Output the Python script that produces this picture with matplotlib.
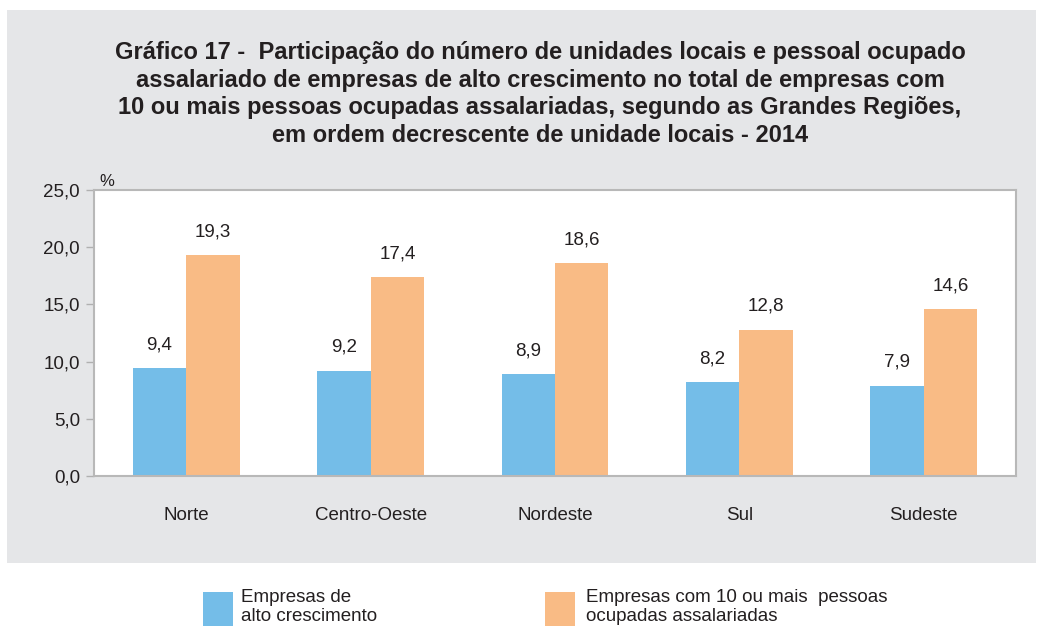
import matplotlib.pyplot as plt
from matplotlib.patches import Rectangle
import numpy as np

# Data
regioes = ['Norte', 'Centro-Oeste', 'Nordeste', 'Sul', 'Sudeste']
alto_crescimento = [9.4, 9.2, 8.9, 8.2, 7.9]
empresas_10_mais = [19.3, 17.4, 18.6, 12.8, 14.6]
y_ticks = [0, 5, 10, 15, 20, 25]

azul = '#74bde8'
laranja = '#f9bb85'
cinza = '#e5e6e8'
texto = '#231f20'

plt.rcParams['font.family'] = ['Liberation Sans', 'DejaVu Sans']

fig = plt.figure(figsize=(10.51, 6.28), dpi=100)
W, H = 1051, 628

# gray panel behind the title and plot
fig.patches.append(Rectangle((7 / W, 1 - 563 / H), 1029 / W, 553 / H,
                             transform=fig.transFigure, facecolor=cinza,
                             edgecolor='none', zorder=-10))

titulo = ('Gráfico 17 -  Participação do número de unidades locais e pessoal ocupado\n'
          'assalariado de empresas de alto crescimento no total de empresas com\n'
          '10 ou mais pessoas ocupadas assalariadas, segundo as Grandes Regiões,\n'
          'em ordem decrescente de unidade locais - 2014')
fig.text(540 / W, 1 - 94 / H, titulo, ha='center', va='center', fontsize=17,
         fontweight='bold', color=texto, linespacing=1.27)

ax = fig.add_axes([94 / W, 1 - 476 / H, 922 / W, 286 / H], zorder=5)
ax.set_facecolor('white')

x = np.arange(len(regioes))
w = 0.29
ax.bar(x - w / 2, alto_crescimento, w, color=azul, zorder=2)
ax.bar(x + w / 2, empresas_10_mais, w, color=laranja, zorder=2)

for xi, v in zip(x, alto_crescimento):
    ax.text(xi - w / 2, v + 1.3, f'{v:.1f}'.replace('.', ','), ha='center',
            va='bottom', fontsize=13.5, color=texto)
for xi, v in zip(x, empresas_10_mais):
    ax.text(xi + w / 2, v + 1.3, f'{v:.1f}'.replace('.', ','), ha='center',
            va='bottom', fontsize=13.5, color=texto)

ax.set_xlim(-0.5, len(regioes) - 0.5)
ax.set_ylim(0, 25)
ax.set_yticks(y_ticks)
ax.set_yticklabels([f'{t:.1f}'.replace('.', ',') for t in y_ticks], fontsize=13.5,
                   color=texto)
ax.set_xticks(x)
ax.set_xticklabels(regioes, fontsize=13.5, color=texto)
ax.tick_params(axis='x', length=0, pad=22)
ax.tick_params(axis='y', length=6, width=1, color='#b0b0b0', pad=4)
for s in ax.spines.values():
    s.set_color('#b8b8b8')
    s.set_linewidth(1.5)

fig.text(99 / W, 1 - 181 / H, '%', ha='left', va='center', fontsize=12,
         color=texto)

# legend below the gray panel
fig.patches.append(Rectangle((203 / W, 1 - 626 / H), 30 / W, 34 / H,
                             transform=fig.transFigure, facecolor=azul,
                             edgecolor='none'))
fig.text(241 / W, 1 - 607 / H, 'Empresas de\nalto crescimento', ha='left',
         va='center', fontsize=13.5, color=texto, linespacing=1.1)
fig.patches.append(Rectangle((545 / W, 1 - 626 / H), 30 / W, 34 / H,
                             transform=fig.transFigure, facecolor=laranja,
                             edgecolor='none'))
fig.text(586 / W, 1 - 607 / H, 'Empresas com 10 ou mais  pessoas\nocupadas assalariadas',
         ha='left', va='center', fontsize=13.5, color=texto, linespacing=1.1)

fig.savefig('out.png', dpi=100)
